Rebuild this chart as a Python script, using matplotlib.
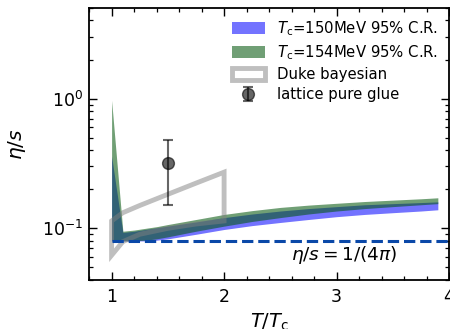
import numpy as np
import matplotlib.pyplot as plt
from matplotlib.patches import Polygon
from matplotlib.ticker import FixedLocator, MultipleLocator, NullFormatter, FuncFormatter

# temperature grid of the posterior bands (T/Tc)
T_band = [1.0, 1.1, 1.2, 1.3, 1.4, 1.5, 1.75, 2.0, 2.25, 2.5, 2.75, 3.0, 3.25, 3.5, 3.75, 3.9]

# Tc = 150 MeV, 95% credible region
tc150_low = [0.080, 0.080, 0.080, 0.080, 0.081, 0.083, 0.090, 0.098, 0.105, 0.111,
             0.117, 0.123, 0.128, 0.132, 0.136, 0.139]
tc150_high = [0.36, 0.093, 0.095, 0.098, 0.101, 0.104, 0.112, 0.121, 0.129, 0.136,
              0.142, 0.147, 0.152, 0.155, 0.158, 0.160]

# Tc = 154 MeV, 95% credible region
tc154_low = [0.080, 0.080, 0.080, 0.081, 0.083, 0.086, 0.095, 0.104, 0.113, 0.121,
             0.129, 0.136, 0.142, 0.147, 0.152, 0.155]
tc154_high = [0.97, 0.095, 0.097, 0.100, 0.103, 0.107, 0.117, 0.128, 0.137, 0.145,
              0.151, 0.156, 0.161, 0.165, 0.169, 0.172]

# Duke bayesian band outline
duke_T = [1.0, 1.1, 1.25, 1.5, 1.75, 2.0]
duke_low = [0.062, 0.079, 0.090, 0.100, 0.108, 0.114]
duke_high = [0.114, 0.132, 0.150, 0.183, 0.223, 0.271]

# lattice pure glue point
lattice_T = [1.5]
lattice_val = [0.32]
lattice_lo = [0.15]
lattice_hi = [0.48]

kss = 1 / (4 * np.pi)

plt.rcParams['font.size'] = 12.5
plt.rcParams['mathtext.fontset'] = 'dejavusans'

fig = plt.figure(figsize=(4.5, 3.29), dpi=100)
ax = fig.add_axes([0.198, 0.149, 0.80, 0.827])

ax.fill_between(T_band, tc150_low, tc150_high, color='blue', alpha=0.55, lw=0,
                label=r'$T_\mathrm{c}$=150MeV 95% C.R.')
ax.fill_between(T_band, tc154_low, tc154_high, color='#00550a', alpha=0.56, lw=0,
                label=r'$T_\mathrm{c}$=154MeV 95% C.R.')

duke_xy = np.column_stack([duke_T + duke_T[::-1], duke_low + duke_high[::-1]])
ax.add_patch(Polygon(duke_xy, closed=True, fill=False, edgecolor='gray', alpha=0.5,
                     lw=3.5, label='Duke bayesian'))

ax.plot([1.0, 4.2], [kss, kss], '--', color='#0a48a8', lw=2.2)

yerr = [np.array(lattice_val) - np.array(lattice_lo), np.array(lattice_hi) - np.array(lattice_val)]
ax.errorbar(lattice_T, lattice_val, yerr=yerr, fmt='o', color='k', alpha=0.6,
            ms=8.5, capsize=3.5, elinewidth=1.5, capthick=1.5, label='lattice pure glue')

ax.text(3.07, 0.062, r'$\eta/s=1/(4\pi)$', ha='center', va='center', fontsize=13.3)

ax.set_yscale('log')
ax.set_xlim(0.8, 4.0)
ax.set_ylim(0.04, 5.0)

ax.xaxis.set_major_locator(FixedLocator([1, 2, 3, 4]))
ax.xaxis.set_major_formatter(FuncFormatter(lambda v, p: '%d' % v))
ax.xaxis.set_minor_locator(MultipleLocator(0.2))
ax.yaxis.set_minor_formatter(NullFormatter())

ax.tick_params(which='both', direction='in', top=True, right=True)
ax.tick_params(which='major', length=5.5, width=1.0)
ax.tick_params(which='minor', length=3, width=0.9)
ax.tick_params(axis='x', pad=6)
ax.tick_params(axis='y', pad=4)
for sp in ax.spines.values():
    sp.set_linewidth(1.3)

ax.set_xlabel(r'$T/T_\mathrm{c}$', fontsize=14, labelpad=4)
ax.set_ylabel(r'$\eta/s$', fontsize=14.5)
ax.yaxis.set_label_coords(-0.17, 0.5)

ax.legend(loc='upper right', frameon=False, fontsize=10.7, handlelength=2.2,
          handleheight=0.8, handletextpad=0.85, labelspacing=0.36, borderaxespad=0.35)

fig.savefig('out.png', dpi=100)
